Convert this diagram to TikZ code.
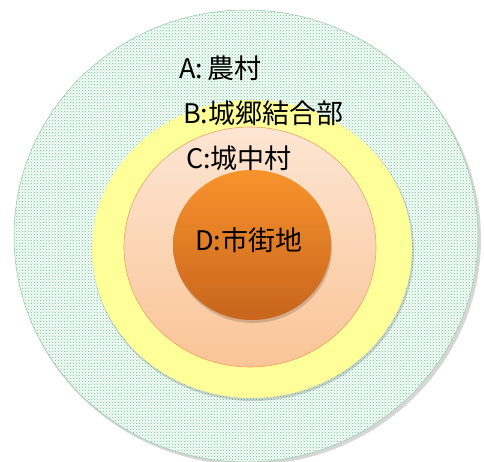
\documentclass[tikz,border=0pt]{standalone}
\usepackage{fontspec}
\setmainfont{Noto Sans CJK JP}
\usetikzlibrary{patterns,shapes.geometric}
\definecolor{dotgreen}{RGB}{95,205,140}
\definecolor{paleyellow}{RGB}{255,255,153}
\definecolor{peachtop}{RGB}{253,230,212}
\definecolor{peachbot}{RGB}{250,196,150}
\definecolor{peachline}{RGB}{240,160,100}
\definecolor{orangetop}{RGB}{248,148,44}
\definecolor{orangebot}{RGB}{200,100,28}
\tikzset{
  lbl/.style={font=\fontsize{27}{30}\selectfont, text=black, inner sep=0pt},
  shadowring/.style={fill=black, opacity=0.16}
}
\begin{document}
\begin{tikzpicture}[x=1pt,y=-1pt]
\useasboundingbox (0,0) rectangle (484,461);
% outer ring A
\fill[shadowring] (248,239) ellipse [x radius=233, y radius=226];
\fill[white] (246,236) ellipse [x radius=232, y radius=226];
\fill[dotgreen!5] (246,236) ellipse [x radius=232, y radius=226];
\path[pattern=crosshatch dots, pattern color=dotgreen] (246,236) ellipse [x radius=232, y radius=226];
\draw[dotgreen!50!gray!70, line width=0.5pt] (246,236) ellipse [x radius=232, y radius=226];
% ring B
\fill[shadowring] (253,251) ellipse [x radius=161, y radius=150];
\fill[paleyellow] (252,249) ellipse [x radius=160, y radius=149];
% ring C
\shade[top color=peachtop, bottom color=peachbot] (250,247) ellipse [x radius=126, y radius=120];
\draw[peachline, line width=0.6pt] (250,247) ellipse [x radius=126, y radius=120];
% core D
\fill[shadowring] (253,248) ellipse [x radius=79, y radius=75];
\shade[top color=orangetop, bottom color=orangebot] (252,245) ellipse [x radius=79, y radius=75];
% labels
\node[lbl, anchor=west] (la) at (179,68) {A:\,農村};
\node[lbl, anchor=west] (lb) at (183,113) {B:城郷結合部};
\node[lbl, anchor=west] (lc) at (186,158) {C:城中村};
\node[lbl, anchor=west] (ld) at (195,240) {D:市街地};
\end{tikzpicture}
\end{document}
